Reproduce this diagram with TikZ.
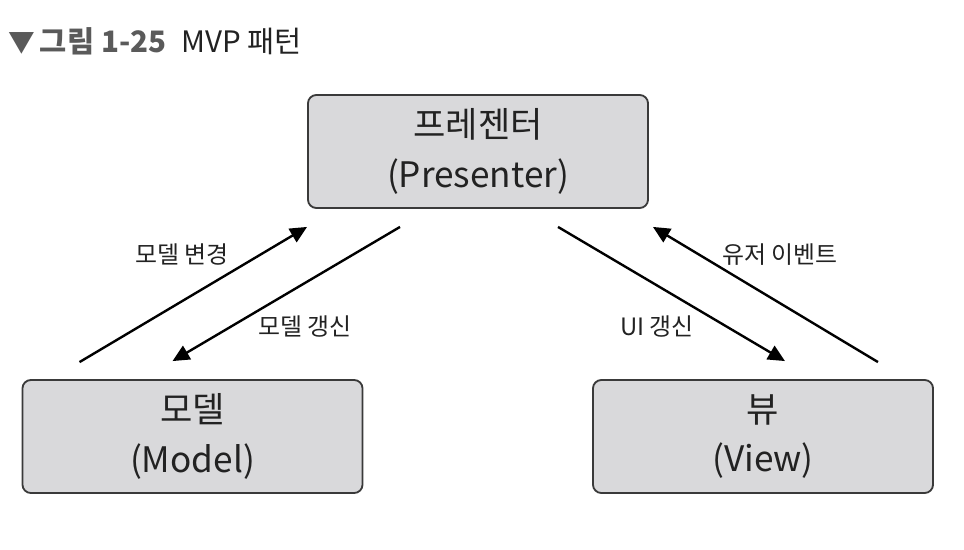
\documentclass[tikz,border=0pt]{standalone}
\usepackage{fontspec}
\setmainfont{Noto Sans CJK KR}
\usetikzlibrary{arrows.meta,calc}
\definecolor{BoxFill}{HTML}{D9D9DB}
\definecolor{BoxLine}{HTML}{3A3A3A}
\definecolor{TitleGrey}{HTML}{5A5A5A}
\definecolor{TextBlack}{HTML}{222222}
\tikzset{
    % Base node style
    basenode/.style={
        draw=BoxLine,
        fill=BoxFill,
        line width=1.3pt,
        rounded corners=6pt,
        minimum width=8.5cm,
        minimum height=2.825cm,
        align=center,
        text=TextBlack,
        font=\fontsize{25}{35}\selectfont
    },
    % Arrow label style
    labelnode/.style={
        text=TextBlack,
        font=\fontsize{17}{19}\selectfont
    },
    % Arrow style (straight lines only)
    myarrow/.style={
        -{Triangle[length=12pt,width=11pt]},
        line width=1.7pt,
        draw=black
    }
}
\begin{document}
\begin{tikzpicture}[x=0.025cm,y=-0.025cm]
    \useasboundingbox (0,0) rectangle (964,550);

    % Title
    \node[anchor=west,inner sep=0pt,font=\fontsize{21}{24}\selectfont] (title) at (8,41)
        {\textcolor{TitleGrey}{\fontsize{19}{24}\selectfont▼}\,\textcolor{TitleGrey}{\textbf{그림 1-25}}\enspace\textcolor{TextBlack}{MVP 패턴}};

    % Boxes
    \node[basenode] (presenter) at (478,151.5) {프레젠터\\(Presenter)};
    \node[basenode] (model) at (192.5,436.5) {모델\\(Model)};
    \node[basenode] (view) at (763,436.5) {뷰\\(View)};

    % Arrows
    \draw[myarrow] ($(model.north west)+(58,-17)$) -- ($(presenter.south west)+(0,18)$);
    \draw[myarrow] ($(presenter.south)+(-78,18)$) -- ($(model.north)+(-20,-18)$);
    \draw[myarrow] ($(presenter.south)+(80,18)$) -- ($(view.north)+(22,-18)$);
    \draw[myarrow] ($(view.north east)+(-56,-17)$) -- ($(presenter.south east)+(4,18)$);

    % Labels
    \node[labelnode] (lblchange) at (182,255) {모델 변경};
    \node[labelnode] (lblupdate) at (305,327) {모델 갱신};
    \node[labelnode] (lblui) at (657,327) {UI 갱신};
    \node[labelnode] (lblevent) at (780,255) {유저 이벤트};
\end{tikzpicture}
\end{document}
